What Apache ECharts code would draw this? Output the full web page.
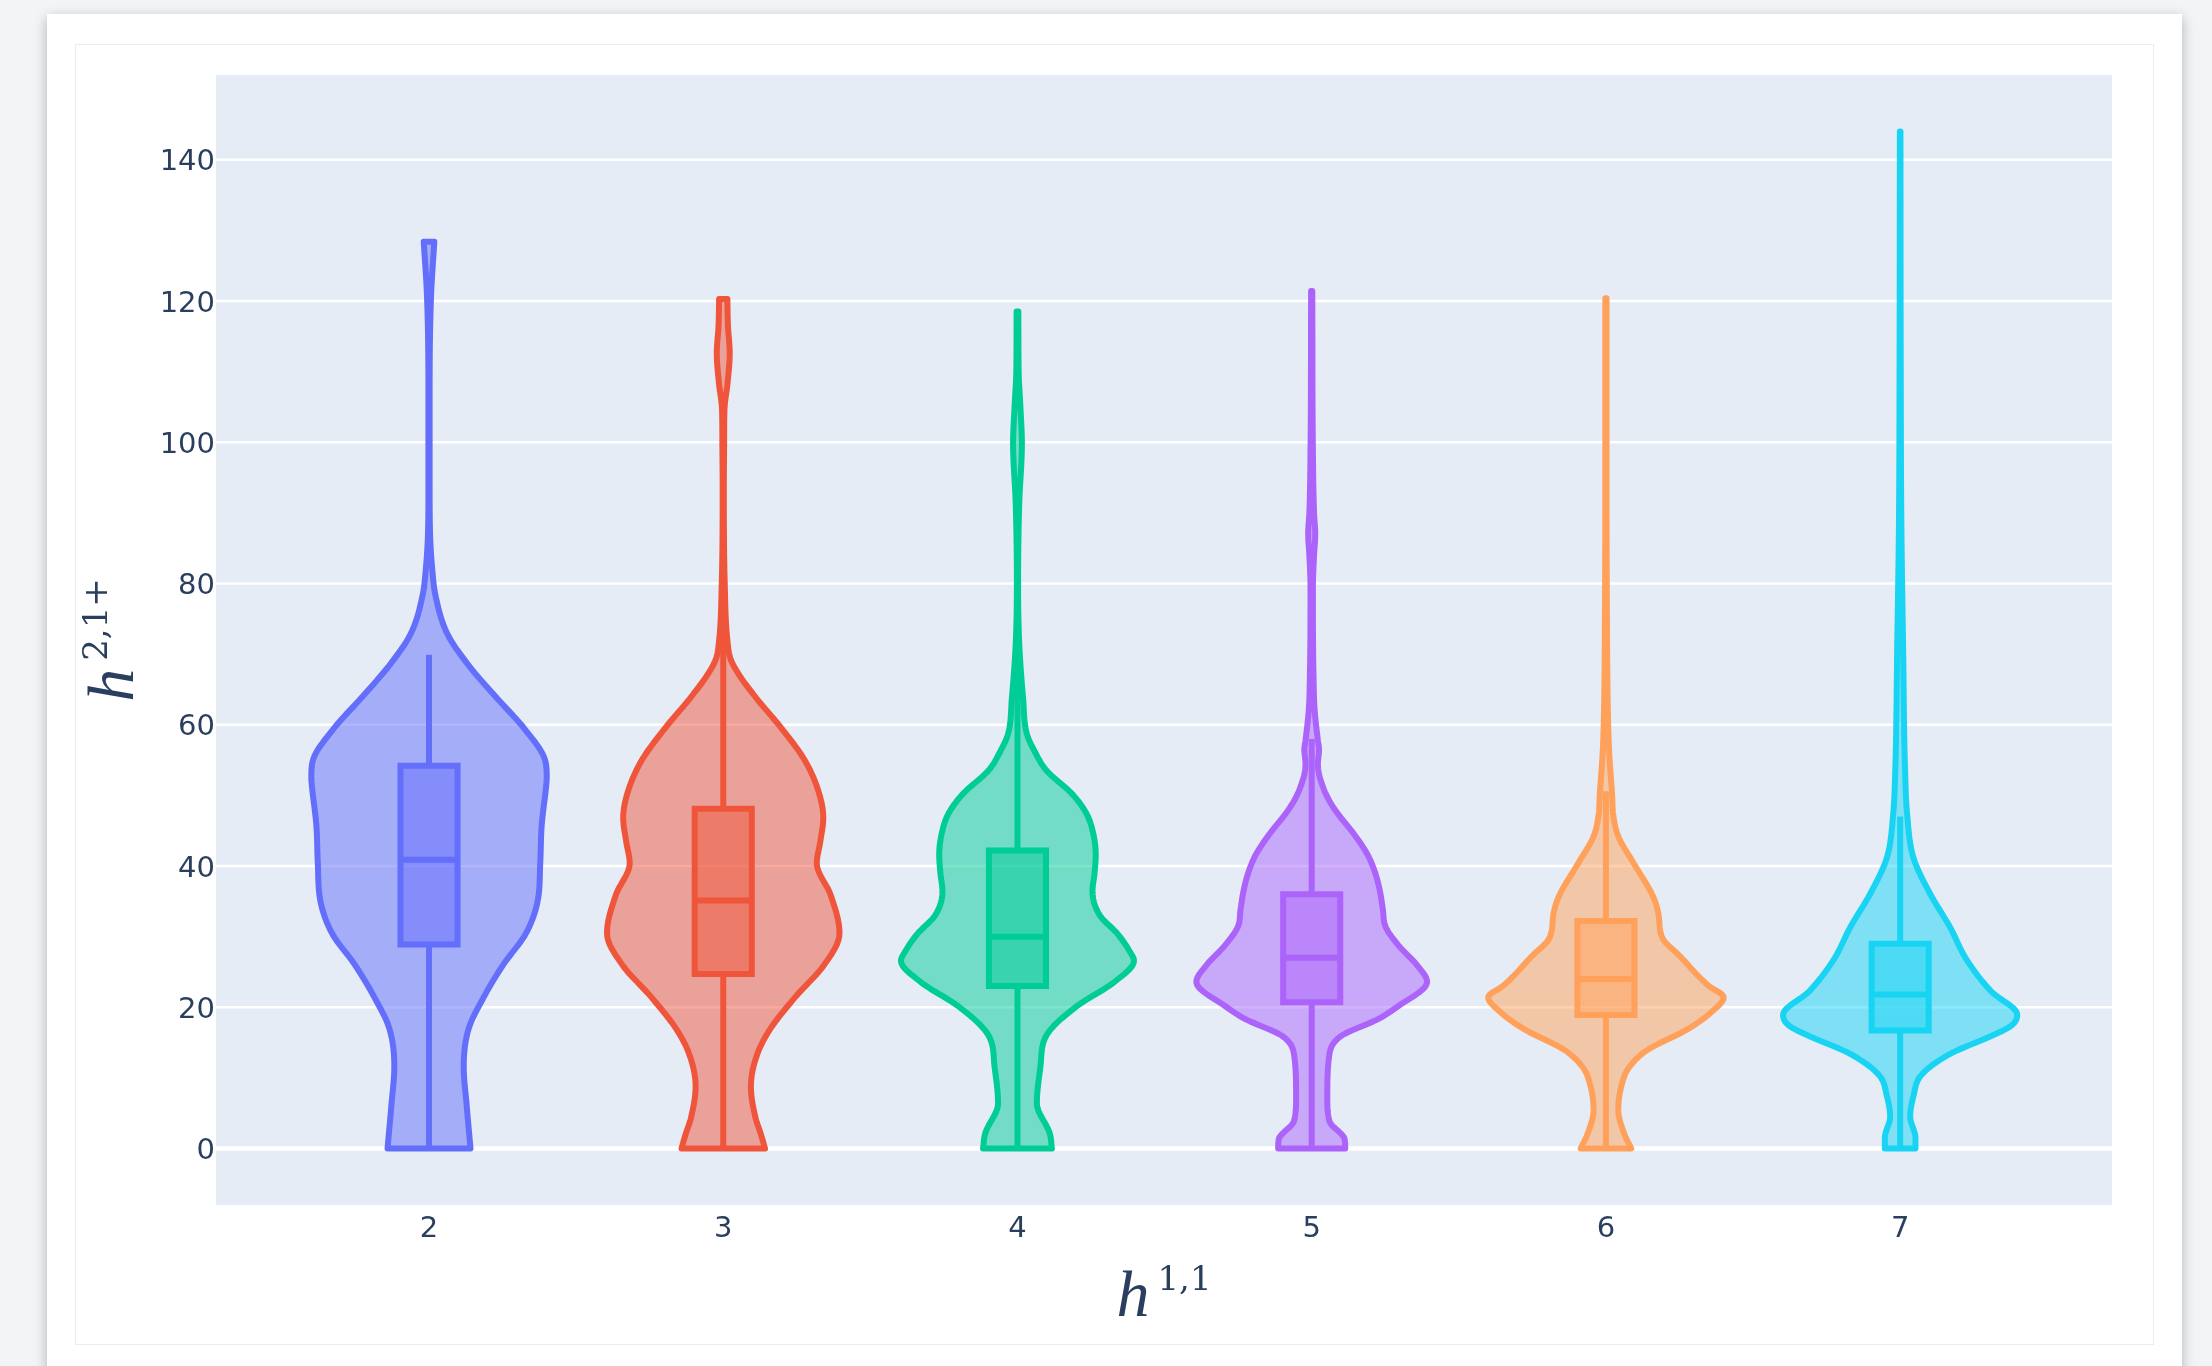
<!DOCTYPE html>
<html><head><meta charset="utf-8">
<script src="https://cdn.jsdelivr.net/npm/echarts@6/dist/echarts.min.js"></script>
<style>
html,body{margin:0;padding:0;background:#f3f4f6;width:2212px;height:1366px;overflow:hidden;}
#card{position:absolute;left:47px;top:14px;width:2135px;height:1420px;background:#fff;box-shadow:0 4px 12px rgba(0,0,0,0.28);}
#inner{position:absolute;left:75px;top:44px;width:2077px;height:1299px;border:1px solid #ececec;}
#chart{position:absolute;left:0;top:0;width:2212px;height:1366px;}
</style></head><body>
<div id="card"></div><div id="inner"></div><div id="chart"></div>
<script>
// ---------- data ----------
const categories = [2, 3, 4, 5, 6, 7];
const yTicks = [0, 20, 40, 60, 80, 100, 120, 140];
const q1 = [28.9, 24.7, 23.0, 20.7, 18.9, 16.7];
const median = [40.9, 35.1, 30.0, 27.0, 24.0, 21.8];
const q3 = [54.2, 48.1, 42.2, 36.0, 32.2, 29.0];
const lowerFence = [0, 0, 0, 0, 0, 0];
const upperFence = [69.9, 80, 70, 58.0, 50.6, 47.0];

// violin outlines: [h21 value, half width in category units]
const violin2 = [[0,0.141],[6.1,0.128],[11.6,0.118],[17.0,0.135],[21.5,0.187],[26.0,0.252],[30.5,0.33],[35.0,0.369],[40.4,0.378],[45.8,0.383],[51.3,0.398],[52.5,0.40],[54.9,0.395],[59.4,0.325],[63.9,0.228],[68.4,0.135],[72.9,0.062],[78.3,0.022],[82.0,0.011],[86.5,0.004],[93.7,0.002],[107.2,0.002],[120.8,0.007],[128.4,0.018]];
const violin3 = [[0,0.142],[2,0.128],[4.3,0.11],[8.8,0.094],[13.4,0.116],[17.0,0.161],[21.5,0.246],[26.0,0.343],[30.5,0.395],[35.9,0.365],[40.4,0.318],[43.5,0.33],[46.8,0.34],[50.4,0.325],[54.9,0.278],[59.4,0.20],[63.9,0.11],[67,0.055],[69.3,0.025],[72.0,0.014],[80.1,0.005],[93.7,0.002],[100,0.003],[104.5,0.004],[108.5,0.015],[112.6,0.022],[116.5,0.016],[120.3,0.014]];
const violin4 = [[0,0.117],[2.1,0.11],[6.4,0.066],[11.6,0.078],[15.9,0.097],[20.1,0.20],[23.6,0.33],[26.6,0.396],[27.8,0.383],[30.4,0.34],[33.0,0.28],[36.4,0.255],[39,0.262],[41.6,0.266],[44.5,0.258],[47.3,0.236],[50.1,0.188],[53.6,0.097],[56.1,0.06],[58.7,0.032],[63.8,0.019],[71.5,0.006],[80.1,0.002],[91.3,0.006],[99.8,0.015],[105,0.01],[110,0.004],[118.5,0.003]];
const violin5 = [[0,0.114],[1.3,0.112],[3.9,0.06],[7.3,0.053],[13.3,0.06],[15.9,0.099],[18.4,0.229],[20.1,0.292],[23.6,0.392],[25.9,0.359],[28.9,0.292],[31.5,0.25],[33.8,0.242],[36.4,0.232],[39,0.216],[41.6,0.19],[44.1,0.151],[48.4,0.072],[51,0.04],[54.4,0.021],[56.5,0.025],[57.8,0.021],[62.1,0.01],[67.3,0.006],[79.3,0.004],[84,0.008],[87,0.012],[90,0.008],[99,0.004],[121.4,0.002]];
const violin6 = [[0,0.086],[2.0,0.063],[5.5,0.042],[9.4,0.056],[11.4,0.077],[13.9,0.139],[16.9,0.278],[19.4,0.361],[21.4,0.40],[23.1,0.347],[27.3,0.25],[29.8,0.192],[33.3,0.178],[35.7,0.16],[40.2,0.097],[44.2,0.042],[47.2,0.025],[50.1,0.021],[56.1,0.011],[61.1,0.007],[79,0.003],[100,0.002],[120.4,0.002]];
const violin7 = [[0,0.052],[1.5,0.052],[4.5,0.034],[7.4,0.045],[10.4,0.072],[13.4,0.17],[15.9,0.308],[17.4,0.378],[18.9,0.398],[22.3,0.308],[26.8,0.225],[31.3,0.17],[36.2,0.1],[41.2,0.045],[47.2,0.024],[53.1,0.017],[71,0.01],[88.9,0.004],[110,0.002],[144,0.001]];
const violins = [violin2, violin3, violin4, violin5, violin6, violin7];

// ---------- style ----------
const colors = ['#636efa', '#EF553B', '#00cc96', '#ab63fa', '#FFA15A', '#19d3f3'];
const textColor = '#2a3f5f';
const boxHalf = 0.097;
const lw = 6;

function rgba(hex, a) {
  const n = parseInt(hex.slice(1), 16);
  return 'rgba(' + ((n >> 16) & 255) + ',' + ((n >> 8) & 255) + ',' + (n & 255) + ',' + a + ')';
}

// monotone cubic interpolation of half-width as a function of value (for smooth drawing)
function monotone(xs, ys) {
  const n = xs.length, d = [], m = new Array(n);
  for (let k = 0; k < n - 1; k++) d[k] = (ys[k + 1] - ys[k]) / (xs[k + 1] - xs[k]);
  m[0] = d[0]; m[n - 1] = d[n - 2];
  for (let k = 1; k < n - 1; k++) m[k] = d[k - 1] * d[k] <= 0 ? 0 : (d[k - 1] + d[k]) / 2;
  for (let k = 0; k < n - 1; k++) {
    if (d[k] === 0) { m[k] = 0; m[k + 1] = 0; continue; }
    const a = m[k] / d[k], b = m[k + 1] / d[k], s = a * a + b * b;
    if (s > 9) { const t = 3 / Math.sqrt(s); m[k] = t * a * d[k]; m[k + 1] = t * b * d[k]; }
  }
  return function (x) {
    let k = 0;
    while (k < n - 2 && x > xs[k + 1]) k++;
    const h = xs[k + 1] - xs[k], t = (x - xs[k]) / h, t2 = t * t, t3 = t2 * t;
    return (2 * t3 - 3 * t2 + 1) * ys[k] + (t3 - 2 * t2 + t) * h * m[k] + (-2 * t3 + 3 * t2) * ys[k + 1] + (t3 - t2) * h * m[k + 1];
  };
}

function violinSeries(i) {
  const shape = violins[i];
  const f = monotone(shape.map(p => p[0]), shape.map(p => p[1]));
  const y0 = shape[0][0], y1 = shape[shape.length - 1][0];
  const samples = [];
  for (let v = y0; v < y1; v += 0.25) samples.push([v, Math.max(0.0005, f(v))]);
  samples.push([y1, shape[shape.length - 1][1]]);
  const c = colors[i];
  return {
    type: 'custom',
    name: String(categories[i]),
    data: [[categories[i], median[i]]],
    z: 3,
    silent: true,
    renderItem: function (params, api) {
      const x = categories[i];
      const left = samples.map(p => api.coord([x - p[1], p[0]]));
      const right = samples.map(p => api.coord([x + p[1], p[0]])).reverse();
      const pts = left.concat(right);
      const cx = api.coord([x, 0])[0];
      const tl = api.coord([x - boxHalf, q3[i]]);
      const br = api.coord([x + boxHalf, q1[i]]);
      const yq1 = api.coord([x, q1[i]])[1], yq3 = api.coord([x, q3[i]])[1];
      const ylo = api.coord([x, lowerFence[i]])[1], yhi = api.coord([x, upperFence[i]])[1];
      const ymed = api.coord([x, median[i]])[1];
      return {
        type: 'group',
        children: [
          { type: 'polygon', shape: { points: pts }, style: { fill: rgba(c, 0.5), stroke: c, lineWidth: lw, lineJoin: 'round' } },
          { type: 'line', shape: { x1: cx, y1: ylo, x2: cx, y2: yq1 }, style: { stroke: c, lineWidth: lw } },
          { type: 'line', shape: { x1: cx, y1: yq3, x2: cx, y2: yhi }, style: { stroke: c, lineWidth: lw } },
          { type: 'rect', shape: { x: tl[0], y: tl[1], width: br[0] - tl[0], height: br[1] - tl[1] }, style: { fill: rgba(c, 0.5), stroke: c, lineWidth: lw } },
          { type: 'line', shape: { x1: tl[0], y1: ymed, x2: br[0], y2: ymed }, style: { stroke: c, lineWidth: lw } }
        ]
      };
    }
  };
}

const gridSeries = {
  type: 'custom',
  data: [[categories[0], 0]],
  z: 1,
  silent: true,
  renderItem: function (params, api) {
    const cs = params.coordSys;
    return {
      type: 'group',
      children: yTicks.map(v => {
        const y = api.coord([categories[0], v])[1];
        return { type: 'line', shape: { x1: cs.x, y1: y, x2: cs.x + cs.width, y2: y }, style: { stroke: '#ffffff', lineWidth: v === 0 ? 4.5 : 2.4 } };
      })
    };
  }
};

const titleRich = {
  h: { fontFamily: 'Liberation Serif', fontStyle: 'italic', fontSize: 66, lineHeight: 70, color: textColor },
  s: { fontFamily: 'DejaVu Serif', fontSize: 34, lineHeight: 46, verticalAlign: 'top', color: textColor, padding: [0, 0, 0, 8] }
};

const chart = echarts.init(document.getElementById('chart'), null, { renderer: 'canvas' });
chart.setOption({
  animation: false,
  backgroundColor: 'transparent',
  grid: { left: 216, right: 100, top: 75, bottom: 161, show: true, backgroundColor: '#E5ECF6', borderWidth: 0 },
  xAxis: {
    type: 'value', min: 1.276, max: 7.72,
    axisLine: { show: false }, axisTick: { show: false }, splitLine: { show: false },
    axisLabel: { customValues: categories, color: textColor, fontFamily: 'DejaVu Sans', fontSize: 29, margin: 10 },
    name: '{h|h}{s|1,1}', nameLocation: 'middle', nameGap: 59,
    nameTextStyle: { rich: titleRich }
  },
  yAxis: {
    type: 'value', min: -8, max: 152,
    axisLine: { show: false }, axisTick: { show: false }, splitLine: { show: false },
    axisLabel: {
      customValues: yTicks, margin: 1,
      formatter: function (v) { return '{t|' + v + '}'; },
      rich: { t: { color: textColor, fontFamily: 'DejaVu Sans', fontSize: 29, lineHeight: 34, padding: [6, 0, 0, 0] } }
    },
    name: '{h|h}{s|2,1+}', nameLocation: 'middle', nameGap: 62,
    nameTextStyle: { rich: titleRich }
  },
  series: [gridSeries].concat(categories.map((c, i) => violinSeries(i)))
});
</script></body></html>
